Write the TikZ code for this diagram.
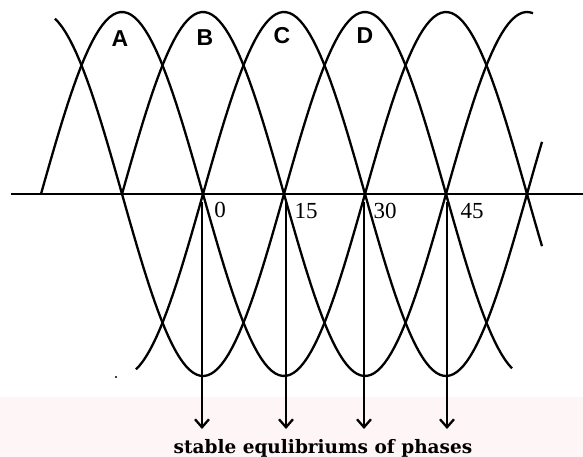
\documentclass[tikz,border=0pt]{standalone}
\usepackage{fontspec}
\usetikzlibrary{arrows.meta}
\newfontfamily\phasefont{Liberation Sans}
\newfontfamily\degfont{Liberation Serif}
\newfontfamily\capfont{DejaVu Serif}
\definecolor{wmark}{RGB}{254,245,246}

\begin{document}
\begin{tikzpicture}[
  x=1pt,y=-1pt,
  wave/.style={line width=2.3pt,draw=black,line join=round},
  axisline/.style={line width=2.3pt,draw=black},
  eq/.style={line width=2.3pt,draw=black,-{Straight Barb[length=8pt,width=14pt,line width=2.3pt]}},
  ph/.style={font=\phasefont\bfseries\fontsize{23}{23}\selectfont,inner sep=0pt},
  deg/.style={font=\degfont\fontsize{23}{23}\selectfont,inner sep=0pt},
  notetext/.style={font=\capfont\bfseries\fontsize{18.5}{18.5}\selectfont,inner sep=0pt,anchor=base}
]
\useasboundingbox (0,0) rectangle (583,457);
\fill[wmark] (0,397) rectangle (583,457);

% ================= axis =================
\draw[axisline] (11,194) -- (583,194);

% ================= phase waves (period 324, shift 81) =================
% angle in degrees = (x - zero)/0.9
\draw[wave] plot[domain=41:542,samples=140]  (\x,{194-182*sin((\x-41)/0.9)});
\draw[wave] plot[domain=122:533,samples=120] (\x,{194-182*sin((\x-122)/0.9)});
\draw[wave] plot[domain=136:542,samples=120] (\x,{194-182*sin((\x-203)/0.9)});
\draw[wave] plot[domain=55:512,samples=130]  (\x,{194-182*sin((\x-284)/0.9)});

\node[ph] (pA) at (120,39) {A};
\node[ph] (pB) at (205,38) {B};
\node[ph] (pC) at (282,36) {C};
\node[ph] (pD) at (365,36) {D};

% ================= equilibrium points =================
\coordinate (e0) at (202,194);
\coordinate (e1) at (286,194);
\coordinate (e2) at (364,194);
\coordinate (e3) at (447,194);
\coordinate (t0) at (202,429);
\coordinate (t1) at (286,429);
\coordinate (t2) at (364,429);
\coordinate (t3) at (447,429);

\node[deg] (d0) at (220,210) {0};
\node[deg] (d1) at (306,211) {15};
\node[deg] (d2) at (385,211) {30};
\node[deg] (d3) at (472,211) {45};

\draw[eq] ([yshift=-8pt]e0) -- (t0);
\draw[eq] ([yshift=-8pt]e1) -- (t1);
\draw[eq] ([yshift=-8pt]e2) -- (t2);
\draw[eq] ([yshift=-8pt]e3) -- (t3);

\node[notetext] (note) at (323,453) {stable equlibriums of phases};

\fill (116,377) circle (1.2);
\end{tikzpicture}
\end{document}
